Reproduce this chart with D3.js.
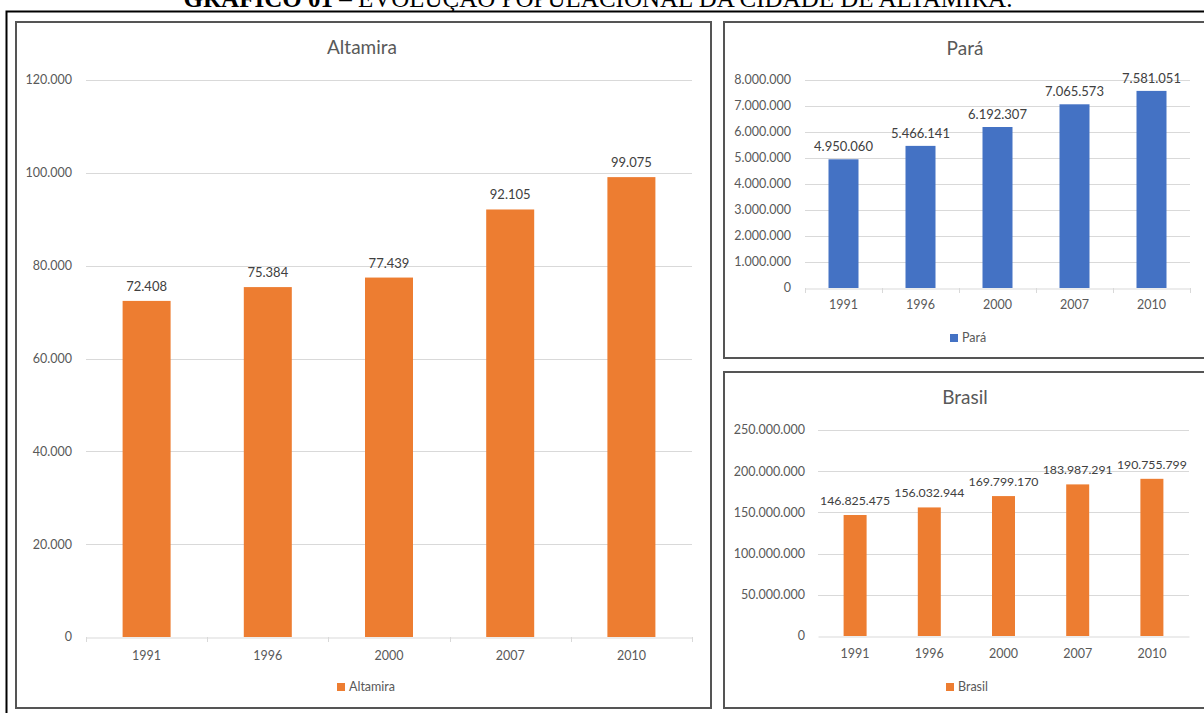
<!DOCTYPE html>
<html>
<head>
<meta charset="utf-8">
<script src="https://cdn.jsdelivr.net/npm/d3@7"></script>
<style>
html,body{margin:0;padding:0;background:#fff;}
svg{display:block;}
</style>
</head>
<body>
<svg id="c" width="1204" height="713"></svg>
<script>
const years = ["1991", "1996", "2000", "2007", "2010"];
const altamiraValues = [72408, 75384, 77439, 92105, 99075];
const paraValues = [4950060, 5466141, 6192307, 7065573, 7581051];
const brasilValues = [146825475, 156032944, 169799170, 183987291, 190755799];
const altamiraTicks = [0, 20000, 40000, 60000, 80000, 100000, 120000];
const paraTicks = [0, 1000000, 2000000, 3000000, 4000000, 5000000, 6000000, 7000000, 8000000];
const brasilTicks = [0, 50000000, 100000000, 150000000, 200000000, 250000000];
const pageTitleBold = "GRÁFICO 01";
const pageTitleRest = " – EVOLUÇÃO POPULACIONAL DA CIDADE DE ALTAMIRA.";

const svg = d3.select("#c");
const FONT = "Lato, 'Open Sans', sans-serif";
const fmt = v => d3.format(",")(v).replace(/,/g, ".");

// page title (cut off at top, as in the source page)
const t = svg.append("text").attr("x", 598).attr("y", 7).attr("text-anchor", "middle")
  .attr("font-family", "'Liberation Serif', 'DejaVu Serif', serif").attr("font-size", 25).attr("fill", "#000");
t.append("tspan").attr("font-weight", "bold").text(pageTitleBold);
t.append("tspan").text(pageTitleRest);

// outer black frame
svg.append("path").attr("d", "M6.5,720 V11.5 H1210").attr("fill", "none").attr("stroke", "#000").attr("stroke-width", 2);

function panel(x0, y0, x1, y1) {
  svg.append("rect").attr("x", x0).attr("y", y0).attr("width", x1 - x0).attr("height", y1 - y0)
    .attr("fill", "#fff").attr("stroke", "#555").attr("stroke-width", 2);
}
panel(16, 22, 711, 708);
panel(724, 22, 1215, 358);
panel(724, 372, 1215, 708);

function chart(cfg) {
  const g = svg.append("g");
  const x = d3.scaleBand().domain(years).range([cfg.x0, cfg.x1]).paddingInner(0).paddingOuter(0);
  const y = d3.scaleLinear().domain([0, cfg.ticks[cfg.ticks.length - 1]]).range([cfg.yb, cfg.yt]);
  g.append("text").attr("x", cfg.tx).attr("y", cfg.ty).attr("text-anchor", "middle")
    .attr("font-family", FONT).attr("font-size", cfg.tsize).attr("fill", "#595959").text(cfg.title);
  g.selectAll(".grid").data(cfg.ticks.slice(1)).join("line")
    .attr("x1", cfg.x0).attr("x2", cfg.x1).attr("y1", d => Math.round(y(d)) + 0.5).attr("y2", d => Math.round(y(d)) + 0.5)
    .attr("stroke", "#d9d9d9").attr("stroke-width", 1);
  g.selectAll(".yl").data(cfg.ticks).join("text")
    .attr("x", cfg.ylx).attr("y", d => y(d)).attr("dy", "0.35em").attr("text-anchor", "end")
    .attr("font-family", FONT).attr("font-size", cfg.fs).attr("fill", "#595959").text(fmt);
  g.selectAll(".bar").data(cfg.values).join("rect")
    .attr("x", (d, i) => x(years[i]) + (x.bandwidth() - cfg.bw) / 2)
    .attr("y", d => y(d)).attr("width", cfg.bw).attr("height", d => y(0) - y(d))
    .attr("fill", cfg.color);
  const ax = g.append("g").attr("transform", `translate(0,${Math.round(y(0)) + 0.5})`)
    .call(d3.axisBottom(x).tickSize(0).tickPadding(cfg.xpad));
  ax.select(".domain").attr("stroke", "#d9d9d9");
  ax.selectAll("text").attr("font-family", FONT).attr("font-size", cfg.fs).attr("fill", "#595959");
  if (cfg.xticks) {
    const bounds = years.map(d => x(d)).concat([cfg.x1]);
    g.selectAll(".xt").data(bounds).join("line")
      .attr("x1", d => Math.round(d) + 0.5).attr("x2", d => Math.round(d) + 0.5)
      .attr("y1", y(0)).attr("y2", y(0) + 5).attr("stroke", "#d9d9d9");
  }
  g.selectAll(".dl").data(cfg.values).join("text")
    .attr("x", (d, i) => x(years[i]) + x.bandwidth() / 2).attr("y", d => y(d) - cfg.dlOff)
    .attr("text-anchor", "middle").attr("font-family", FONT).attr("font-size", cfg.dfs)
    .attr("fill", "#404040").text(fmt);
  const lg = g.append("g");
  lg.append("text").attr("x", cfg.lx + 12).attr("y", cfg.ly).attr("dy", "0.35em")
    .attr("font-family", FONT).attr("font-size", cfg.fs).attr("fill", "#595959").text(cfg.title);
  lg.append("rect").attr("x", cfg.lx).attr("y", cfg.ly - 4).attr("width", 8).attr("height", 8).attr("fill", cfg.color);
}

chart({
  title: "Altamira", values: altamiraValues, ticks: altamiraTicks, color: "#ed7d31",
  x0: 86, x1: 692, yt: 80, yb: 637, bw: 48, ylx: 72, tx: 362, ty: 54, tsize: 19,
  fs: 12.5, dfs: 13, dlOff: 10, xpad: 14, xticks: true, lx: 337, ly: 687
});
chart({
  title: "Pará", values: paraValues, ticks: paraTicks, color: "#4472c4",
  x0: 805, x1: 1190, yt: 80, yb: 288, bw: 30, ylx: 791, tx: 965, ty: 55, tsize: 19,
  fs: 12.5, dfs: 13, dlOff: 8, xpad: 12, xticks: true, lx: 950, ly: 338
});
chart({
  title: "Brasil", values: brasilValues, ticks: brasilTicks, color: "#ed7d31",
  x0: 818, x1: 1189, yt: 430, yb: 636, bw: 23, ylx: 805, tx: 965, ty: 404, tsize: 19,
  fs: 12.5, dfs: 12.3, dlOff: 10, xpad: 13, xticks: false, lx: 946, ly: 687
});
</script>
</body>
</html>
